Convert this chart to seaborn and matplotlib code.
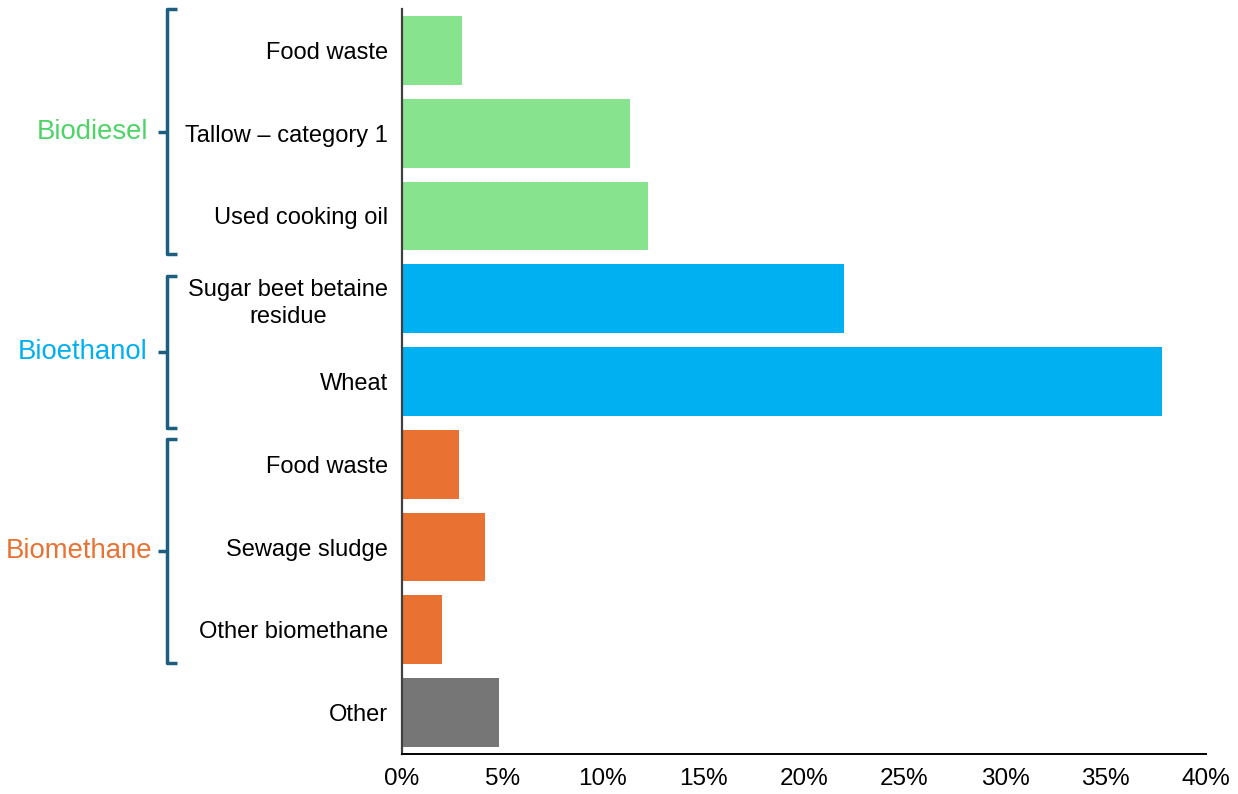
import matplotlib
matplotlib.use("Agg")
import matplotlib.pyplot as plt
import seaborn as sns
import pandas as pd
from matplotlib.lines import Line2D
from matplotlib.transforms import blended_transform_factory

# ---- data ----
labels = ["Food waste", "Tallow – category 1", "Used cooking oil",
          "Sugar beet betaine\nresidue", "Wheat",
          "Food waste", "Sewage sludge", "Other biomethane",
          "Other"]
groups = ["Biodiesel", "Biodiesel", "Biodiesel",
          "Bioethanol", "Bioethanol",
          "Biomethane", "Biomethane", "Biomethane",
          "Other"]
values = [3.0, 11.35, 12.25, 22.0, 37.8, 2.85, 4.15, 2.0, 4.85]
xticks = [0, 5, 10, 15, 20, 25, 30, 35, 40]
xtick_labels = ["0%", "5%", "10%", "15%", "20%", "25%", "30%", "35%", "40%"]
group_names = ["Biodiesel", "Bioethanol", "Biomethane"]

# ---- styles ----
bar_colors = {"Biodiesel": "#88E38F", "Bioethanol": "#00B0F0",
              "Biomethane": "#E97132", "Other": "#767676"}
label_colors = {"Biodiesel": "#4ED466", "Bioethanol": "#00B0F0",
                "Biomethane": "#E97132"}
brace_color = "#1B5E80"
# brace extents in category units (top, bottom)
brace_extent = {"Biodiesel": (-0.5, 2.46), "Bioethanol": (2.72, 4.56),
                "Biomethane": (4.70, 7.40)}
label_right = {"Biodiesel": 148, "Bioethanol": 148, "Biomethane": 152}

sns.set_theme(style="white")
plt.rcParams["font.family"] = ["Liberation Sans", "DejaVu Sans"]

fig = plt.figure(figsize=(12.38, 7.94), dpi=100)
ax = fig.add_axes([402 / 1238, 1 - 754 / 794, (1206 - 402) / 1238, (754 - 9) / 794])

keys = [f"{g}|{l}|{i}" for i, (g, l) in enumerate(zip(groups, labels))]
df = pd.DataFrame({"key": keys, "value": values, "group": groups})

sns.barplot(data=df, y="key", x="value", hue="group", palette=bar_colors,
            orient="h", width=0.83, dodge=False, legend=False,
            saturation=1, linewidth=0, ax=ax)

ax.set_xlim(0, 40)
ax.set_ylim(8.5, -0.5)
ax.set_xlabel("")
ax.set_ylabel("")
ax.set_xticks(xticks)
ax.set_xticklabels(xtick_labels, fontsize=17.5, color="black")
ax.set_yticks(range(len(labels)))
ax.set_yticklabels(labels, fontsize=17, color="black")
for t in ax.get_yticklabels():
    t.set_multialignment("center")
    t.set_linespacing(1.3)
ax.tick_params(axis="both", length=0)
ax.tick_params(axis="x", pad=10)
ax.tick_params(axis="y", pad=10)

for s in ["top", "right"]:
    ax.spines[s].set_visible(False)
ax.spines["left"].set_color("#404040")
ax.spines["left"].set_linewidth(1.6)
ax.spines["bottom"].set_color("black")
ax.spines["bottom"].set_linewidth(1.4)
ax.grid(False)

# ---- braces and group labels ----
tr = blended_transform_factory(fig.transFigure, ax.transData)
x_v = 167 / 1238
x_serif = 177 / 1238
x_nub = 158 / 1238
for g in group_names:
    top, bot = brace_extent[g]
    mid = (top + bot) / 2
    ln = Line2D([x_serif, x_v, x_v, x_serif], [top, top, bot, bot],
                transform=tr, color=brace_color, lw=2.5, clip_on=False,
                solid_joinstyle="round", solid_capstyle="butt")
    fig.add_artist(ln)
    nub = Line2D([x_nub, x_v], [mid, mid], transform=tr, color=brace_color,
                 lw=2.5, clip_on=False, solid_capstyle="butt")
    fig.add_artist(nub)
    fig.text(label_right[g] / 1238, mid, g, transform=tr, ha="right",
             va="center", fontsize=19.8, color=label_colors[g])

fig.savefig("out.png", dpi=100)
